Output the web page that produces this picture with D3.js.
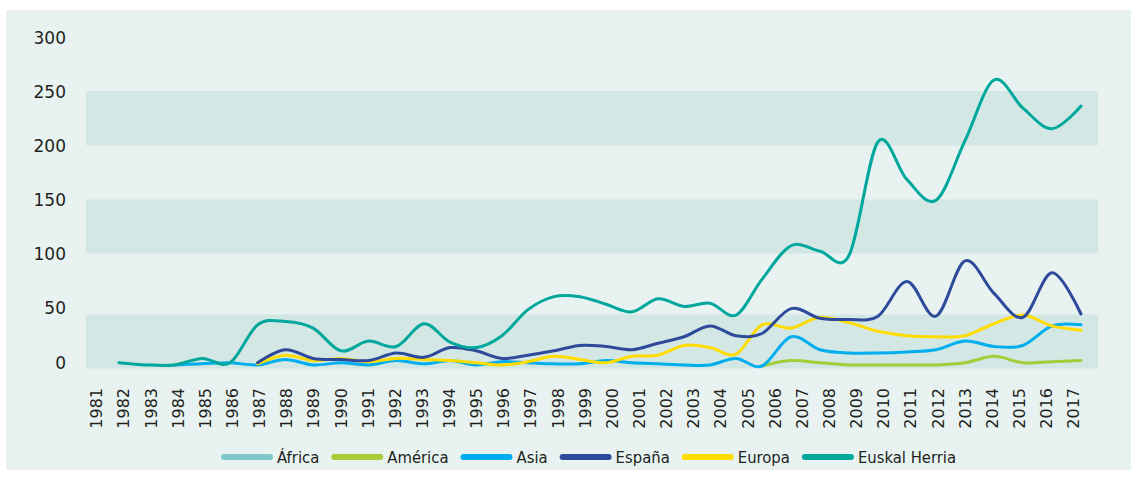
<!DOCTYPE html>
<html>
<head>
<meta charset="utf-8">
<script src="https://cdn.jsdelivr.net/npm/d3@7"></script>
<style>
  body { margin: 0; background: #fff; }
  text { fill: #231f20; }
</style>
</head>
<body>
<div id="chart"></div>
<script>
// data (values per year 1982-2017, null = no data)
var yearLabels = [1981,1982,1983,1984,1985,1986,1987,1988,1989,1990,1991,1992,1993,1994,1995,1996,1997,1998,1999,
                  2000,2001,2002,2003,2004,2005,2006,2007,2008,2009,2010,2011,2012,2013,2014,2015,2016,2017];
var years = [1982,1983,1984,1985,1986,1987,1988,1989,1990,1991,1992,1993,1994,1995,1996,1997,1998,1999,
             2000,2001,2002,2003,2004,2005,2006,2007,2008,2009,2010,2011,2012,2013,2014,2015,2016,2017];

var africa   = [null,null,null,null,null,null,null,null,null,null,null,null,null,null,null,null,null,null,
                null,null,null,null,null,null,null,null,null,null,null,null,null,null,null,null,null,null];
var america  = [null,null,null,null,null,null,null,null,null,null,null,null,null,null,null,null,null,null,
                null,null,null,null,null,null,0,5,3,1,1,1,1,3,9,3,4,5];
var asia     = [null,null,1,2,3,1,6,1,3,1,5,2,5,1,4,3,2,2,
                5,3,2,1,1,7,0,27,15,12,12,13,15,23,18,19,37,38];
var espana   = [null,null,null,null,null,3,15,7,6,5,12,8,17,14,7,10,14,19,
                18,15,21,27,37,28,30,53,44,43,46,78,46,97,67,45,86,48];
var europa   = [null,null,null,null,null,2,10,5,7,4,7,6,5,3,1,4,9,6,
                3,9,10,19,17,11,38,35,45,40,32,28,27,28,39,47,37,33];
var euskal   = [3,1,1,7,3,38,41,35,14,23,18,39,22,17,28,52,64,64,
                57,50,62,55,58,47,80,111,106,102,207,172,153,208,264,238,219,240];

var seriesNames = ["África", "América", "Asia", "España", "Europa", "Euskal Herria"];
var seriesColors = ["#7fc7c9", "#a5cd39", "#00aeef", "#2e4b9b", "#ffdc00", "#00a79d"];
var seriesValues = [africa, america, asia, espana, europa, euskal];

var yTicks = [0, 50, 100, 150, 200, 250, 300];
var bandLo = [200, 100, -6];
var bandHi = [250, 150, 44];

var width = 1137,
    height = 478;

var svg = d3.select("#chart")
  .append("svg")
  .attr("width", width)
  .attr("height", height);

// panel
svg.append("rect")
  .attr("x", 6).attr("y", 10)
  .attr("width", 1125).attr("height", 460)
  .attr("fill", "#e8f3f1");

var y = d3.scaleLinear().domain([0, 300]).range([362, 37]);
var yLine = y.copy().range([366, 41]);

// the plotted years are not evenly spaced in the original drawing
var x = d3.scaleLinear()
  .domain([1982, 1993, 2006, 2017])
  .range([119, 424, 762, 1081]);
var xLabel = d3.scaleLinear().domain([1981, 2017]).range([96, 1073]);

// bands
svg.selectAll(".band")
  .data(bandLo)
  .enter().append("rect")
  .attr("class", "band")
  .attr("x", 86)
  .attr("width", 1012)
  .attr("y", function(d, i) { return y(bandHi[i]); })
  .attr("height", function(d, i) { return y(d) - y(bandHi[i]); })
  .attr("fill", "#d3e7e4");

// y axis
var yAxis = svg.append("g")
  .attr("transform", "translate(66,0)")
  .call(d3.axisLeft(y).tickValues(yTicks).tickSize(0).tickPadding(0));
yAxis.select(".domain").remove();
yAxis.selectAll("text")
  .attr("font-family", "DejaVu Sans")
  .attr("font-size", 17)
  .attr("fill", "#231f20")
  .attr("dy", "0.36em");

// x axis, rotated year labels
var xAxis = svg.append("g")
  .attr("transform", "translate(0,388)")
  .call(d3.axisBottom(xLabel).tickValues(yearLabels).tickFormat(d3.format("d")).tickSize(0));
xAxis.select(".domain").remove();
xAxis.selectAll("text")
  .attr("font-family", "DejaVu Sans")
  .attr("font-size", 16)
  .attr("fill", "#231f20")
  .attr("x", 0)
  .attr("y", 0)
  .attr("dy", "0.36em")
  .attr("text-anchor", "end")
  .attr("transform", "rotate(-90)");

// lines
var line = d3.line()
  .defined(function(d) { return d != null; })
  .x(function(d, i) { return x(years[i]); })
  .y(function(d) { return yLine(d); })
  .curve(d3.curveCardinal.tension(0));

var drawOrder = [0, 1, 2, 4, 3, 5];
svg.selectAll(".series")
  .data(drawOrder)
  .enter().append("path")
  .attr("class", "series")
  .attr("d", function(k) { return line(seriesValues[k]); })
  .attr("fill", "none")
  .attr("stroke", function(k) { return seriesColors[k]; })
  .attr("stroke-width", 3)
  .attr("stroke-linejoin", "round")
  .attr("stroke-linecap", "round");

// legend
var legend = svg.append("g").attr("transform", "translate(0,457)");
var lx = 221;
seriesNames.forEach(function(name, i) {
  legend.append("line")
    .attr("x1", lx + 3).attr("x2", lx + 49)
    .attr("y1", 0).attr("y2", 0)
    .attr("stroke", seriesColors[i])
    .attr("stroke-width", 6)
    .attr("stroke-linecap", "round");
  var t = legend.append("text")
    .attr("x", lx + 56)
    .attr("dy", "0.36em")
    .attr("font-family", "DejaVu Sans Condensed, DejaVu Sans")
    .attr("font-stretch", "condensed")
    .attr("font-size", 16.5)
    .text(name);
  lx = lx + 56 + t.node().getComputedTextLength() + 12;
});
</script>
</body>
</html>
